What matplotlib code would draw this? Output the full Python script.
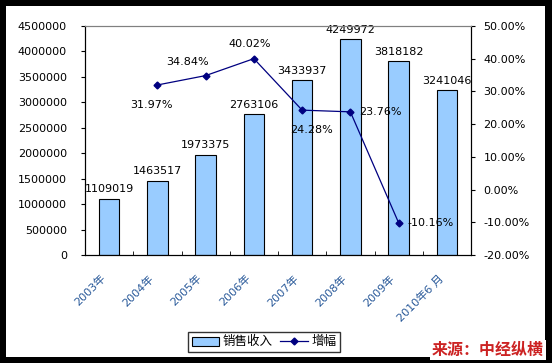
import matplotlib.pyplot as plt
import matplotlib.transforms as mtransforms
from matplotlib.patches import Rectangle

plt.rcParams['font.family'] = ['DejaVu Sans', 'Noto Sans CJK SC']

years = ['2003年', '2004年', '2005年', '2006年', '2007年', '2008年', '2009年', '2010年6 月']
sales = [1109019, 1463517, 1973375, 2763106, 3433937, 4249972, 3818182, 3241046]
growth = [None, 31.97, 34.84, 40.02, 24.28, 23.76, -10.16, None]
growth_offsets = [None, (-4, -11), (-13, 6), (-3, 7), (7, -11), (6, 0), (6, 0)]
growth_ha = [None, 'center', 'center', 'center', 'center', 'left', 'left']

fig = plt.figure(figsize=(5.52, 3.63), dpi=100, facecolor='black')
fig.patches.append(Rectangle((6 / 552, 6 / 363), 539 / 552, 351 / 363,
                             transform=fig.transFigure, facecolor='white',
                             edgecolor='none', zorder=-10))

ax = fig.add_axes([85 / 552, 1 - 255 / 363, 386 / 552, 229 / 363])
ax.set_facecolor('white')
x = list(range(len(years)))
bars = ax.bar(x, sales, width=0.42, color='#99CCFF', edgecolor='black',
              linewidth=0.8, label='销售收入', zorder=2)
for xi, v in zip(x, sales):
    ax.annotate(str(v), (xi, v), xytext=(0, 3), textcoords='offset points',
                ha='center', va='bottom', fontsize=8)

ax.set_xlim(-0.5, len(years) - 0.5)
ax.set_ylim(0, 4500000)
ax.set_yticks(range(0, 4500001, 500000))
ax.set_yticklabels([str(v) for v in range(0, 4500001, 500000)], fontsize=8)
ax.tick_params(axis='y', direction='out', length=3, pad=10)
ax.set_xticks([i + 0.5 for i in range(len(years) - 1)], minor=True)
ax.set_xticks(x)
ax.set_xticklabels(years, rotation=45, ha='right', va='top',
                   rotation_mode='anchor', fontsize=8, color='#2a5a9a')
ax.tick_params(axis='x', which='major', length=0, pad=13)
ax.tick_params(axis='x', which='minor', direction='in', length=3)
shift = mtransforms.ScaledTranslation(-9 / 100, 0, fig.dpi_scale_trans)
for lbl in ax.get_xticklabels():
    lbl.set_transform(lbl.get_transform() + shift)
ax.spines['top'].set_color('#808080')

ax2 = ax.twinx()
gx = [xi for xi, g in zip(x, growth) if g is not None]
gy = [g for g in growth if g is not None]
ax2.plot(gx, gy, color='#000080', linewidth=0.9, marker='D', markersize=3.5,
         label='增幅', zorder=3)
for xi, g, off, ha in zip(gx, gy, growth_offsets[1:], growth_ha[1:]):
    ax2.annotate(f'{g:.2f}%', (xi, g), xytext=off, textcoords='offset points',
                 ha=ha, va='center' if ha == 'left' else ('bottom' if off[1] > 0 else 'top'),
                 fontsize=8)
ax2.set_ylim(-20, 50)
ax2.set_yticks(range(-20, 51, 10))
ax2.set_yticklabels([f'{v:.2f}%' for v in range(-20, 51, 10)], fontsize=8)
ax2.tick_params(axis='y', direction='out', length=3, pad=6)
ax2.spines['top'].set_color('#808080')

h1, l1 = ax.get_legend_handles_labels()
h2, l2 = ax2.get_legend_handles_labels()
leg = fig.legend(h1 + h2, l1 + l2, loc='center', bbox_to_anchor=(264 / 552, 1 - 342 / 363),
                 ncol=2, fontsize=9, frameon=True, fancybox=False, edgecolor='black',
                 handlelength=2.2, handletextpad=0.3, columnspacing=0.6,
                 borderpad=0.25)
leg.get_frame().set_linewidth(1.0)

fig.text(544 / 552, 1 - 350 / 363, '来源：中经纵横', ha='right', va='center',
         fontsize=11.5, fontweight='bold', color='#CC2222',
         family=['Noto Sans CJK SC', 'DejaVu Sans'],
         bbox=dict(facecolor='white', edgecolor='none', pad=1.5))

fig.savefig('out.png', dpi=100, facecolor='black')
